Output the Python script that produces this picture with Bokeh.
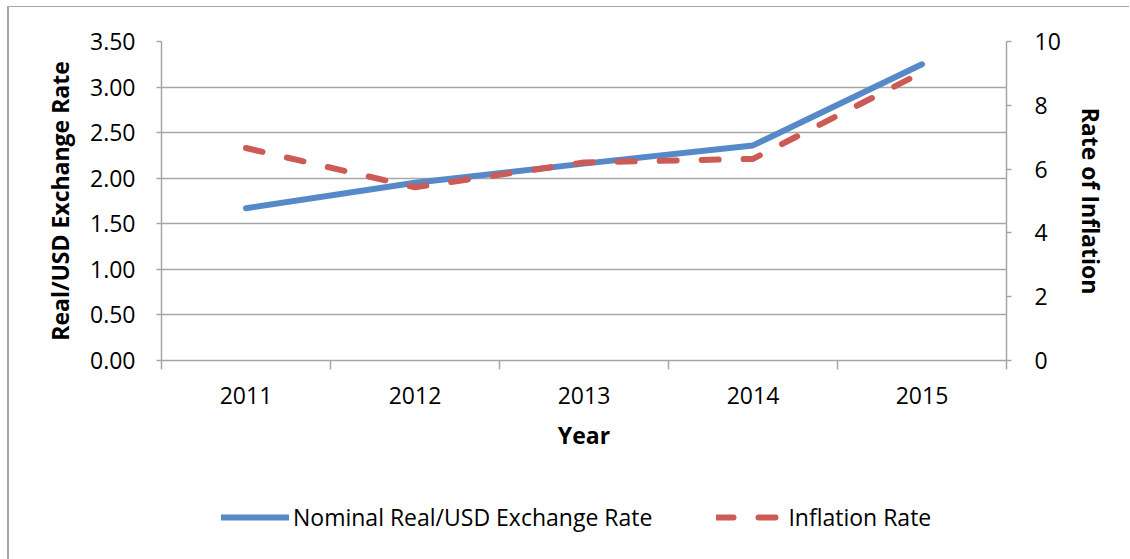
from bokeh.plotting import figure
from bokeh.layouts import column
from bokeh.models import (Range1d, LinearAxis, FixedTicker, Legend, LegendItem,
                          NumeralTickFormatter)
from bokeh.embed import file_html
from bokeh.resources import INLINE

years = ["2011", "2012", "2013", "2014", "2015"]
exchange_rate = [1.67, 1.95, 2.16, 2.36, 3.25]
inflation_rate = [6.66, 5.43, 6.21, 6.32, 9.03]
left_ticks = [0, 0.5, 1.0, 1.5, 2.0, 2.5, 3.0, 3.5]
right_ticks = [0, 2, 4, 6, 8, 10]
series_names = ["Nominal Real/USD Exchange Rate", "Inflation Rate"]

FONT = "Open Sans"
FS = "23px"
GRID = "#a6a6a6"
BLUE = "#5689c8"
RED = "#cc5a55"
DASH = "17 25"

xpos = [i + 0.5 for i in range(len(years))]
bounds = list(range(len(years) + 1))

p = figure(width=1120, height=463, output_backend="svg", toolbar_location=None,
           x_range=Range1d(0, len(years)), y_range=Range1d(0, 3.5),
           min_border_left=152, min_border_right=123, min_border_top=34,
           min_border_bottom=110)
p.outline_line_color = None
p.xgrid.visible = False
p.ygrid.ticker = FixedTicker(ticks=left_ticks)
p.ygrid.grid_line_color = GRID
p.ygrid.grid_line_width = 1.5

p.extra_y_ranges = {"infl": Range1d(0, 10)}

# bottom axis
xa = p.xaxis[0]
xa.ticker = FixedTicker(ticks=xpos, minor_ticks=bounds)
xa.major_label_overrides = {x: y for x, y in zip(xpos, years)}
xa.major_tick_line_color = None
xa.major_tick_out = 0
xa.major_tick_in = 0
xa.minor_tick_out = 9
xa.minor_tick_in = 0
xa.minor_tick_line_color = GRID
xa.minor_tick_line_width = 1.5
xa.axis_line_color = GRID
xa.axis_line_width = 1.5
xa.major_label_text_font = FONT
xa.major_label_text_font_size = FS
xa.major_label_text_color = "#000000"
xa.major_label_standoff = 17
xa.axis_label = "Year"
xa.axis_label_text_font = FONT
xa.axis_label_text_font_size = FS
xa.axis_label_text_font_style = "bold"
xa.axis_label_text_color = "#000000"
xa.axis_label_standoff = 12

# left axis
ya = p.yaxis[0]
ya.ticker = FixedTicker(ticks=left_ticks)
ya.formatter = NumeralTickFormatter(format="0.00")
ya.major_tick_out = 5
ya.major_tick_in = 0
ya.minor_tick_line_color = None
ya.major_tick_line_color = GRID
ya.major_tick_line_width = 1.5
ya.axis_line_color = GRID
ya.axis_line_width = 1.5
ya.major_label_text_font = FONT
ya.major_label_text_font_size = FS
ya.major_label_text_color = "#000000"
ya.major_label_standoff = 21
ya.axis_label = "Real/USD Exchange Rate"
ya.axis_label_text_font = FONT
ya.axis_label_text_font_size = FS
ya.axis_label_text_font_style = "bold"
ya.axis_label_text_color = "#000000"
ya.axis_label_standoff = 11

# right axis
ra = LinearAxis(y_range_name="infl", ticker=FixedTicker(ticks=right_ticks))
ra.major_tick_out = 5
ra.major_tick_in = 0
ra.minor_tick_line_color = None
ra.major_tick_line_color = GRID
ra.major_tick_line_width = 1.5
ra.axis_line_color = GRID
ra.axis_line_width = 1.5
ra.major_label_text_font = FONT
ra.major_label_text_font_size = FS
ra.major_label_text_color = "#000000"
ra.major_label_standoff = 23
ra.axis_label = "Rate of Inflation"
ra.axis_label_text_font = FONT
ra.axis_label_text_font_size = FS
ra.axis_label_text_font_style = "bold"
ra.axis_label_text_color = "#000000"
ra.axis_label_standoff = 11
p.add_layout(ra, "right")

p.line(xpos, exchange_rate, line_color=BLUE, line_width=6, line_cap="round",
       line_join="round")
p.line(xpos, inflation_rate, y_range_name="infl", line_color=RED, line_width=6,
       line_dash=DASH, line_cap="round", line_join="round")

# legend strip below the chart (series drawn out of view; only the legend shows)
lp = figure(width=1120, height=90, output_backend="svg", toolbar_location=None,
            x_range=Range1d(100, 101), y_range=Range1d(100, 101),
            min_border=0)
lp.axis.visible = False
lp.grid.visible = False
lp.outline_line_color = None
l1 = lp.line(xpos, exchange_rate, line_color=BLUE, line_width=6, line_cap="round")
l2 = lp.line(xpos, inflation_rate, line_color=RED, line_width=6, line_dash=DASH,
             line_cap="round")
legend = Legend(items=[LegendItem(label=series_names[0], renderers=[l1]),
                       LegendItem(label=series_names[1], renderers=[l2])],
                orientation="horizontal", location=(60, 27),
                glyph_width=68, glyph_height=30, label_standoff=4, spacing=64,
                label_text_font=FONT, label_text_font_size=FS,
                label_text_color="#000000",
                border_line_color=None, background_fill_alpha=0,
                padding=0, margin=0)
lp.add_layout(legend, "center")

layout = column(p, lp, spacing=0,
                styles={"margin-left": "7px", "margin-top": "6px",
                        "border-left": "2px solid #a6a6a6",
                        "border-top": "1px solid #a6a6a6"})

open("out.html", "w").write(file_html(layout, INLINE))
